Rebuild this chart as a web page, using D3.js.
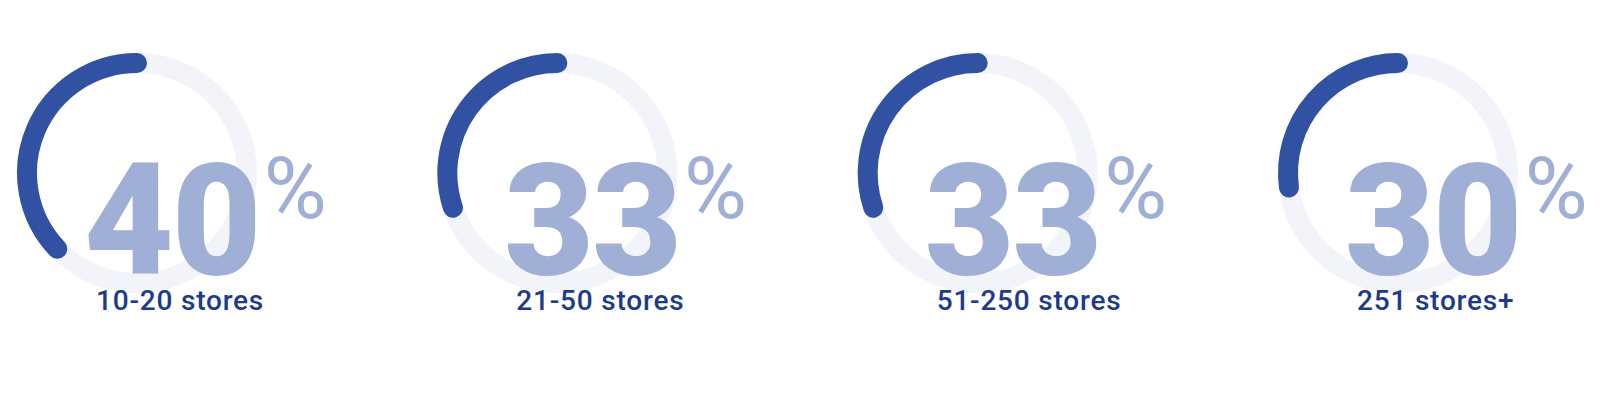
<!DOCTYPE html>
<html>
<head>
<meta charset="utf-8">
<script src="https://cdn.jsdelivr.net/npm/d3@7"></script>
<style>
  body { margin: 0; background: #fff; }
  svg { display: block; font-family: Roboto, "Noto Sans", sans-serif; }
</style>
</head>
<body>
<div id="chart"></div>
<script>
const width = 1600;
const height = 406;

// data
const categories = ["10-20 stores", "21-50 stores", "51-250 stores", "251 stores+"];
const values = [40, 33, 33, 30];

const radius = 110;
const thickness = 20;
const cy = 173;

const svg = d3.select("#chart")
  .append("svg")
  .attr("width", width)
  .attr("height", height);

const x = d3.scalePoint()
  .domain(categories)
  .range([137, 1398]);

// percent -> angle (counter-clockwise from 12 o'clock)
// round caps eat a bit of the arc at each end, so shorten it
const capAngle = (thickness / 2) / radius;
const angle = d3.scaleLinear().domain([0, 100]).range([0, 2 * Math.PI]);

function arcPath(v) {
  const p = d3.path();
  const a0 = -Math.PI / 2;
  const a1 = a0 - (angle(v) - 2 * capAngle);
  p.moveTo(radius * Math.cos(a0), radius * Math.sin(a0));
  p.arc(0, 0, radius, a0, a1, true);
  return p.toString();
}

const gauge = svg.selectAll("g.gauge")
  .data(categories.map((c, i) => ({ name: c, value: values[i] })))
  .enter()
  .append("g")
  .attr("class", "gauge")
  .attr("transform", d => `translate(${x(d.name)},${cy})`);

// background track
gauge.append("circle")
  .attr("r", radius)
  .attr("fill", "none")
  .attr("stroke", "#f2f4fa")
  .attr("stroke-width", thickness);

// value arc
gauge.append("path")
  .attr("d", d => arcPath(d.value))
  .attr("fill", "none")
  .attr("stroke", "#3152a3")
  .attr("stroke-width", thickness)
  .attr("stroke-linecap", "round");

// big number + percent sign
const num = gauge.append("text")
  .attr("x", -53)
  .attr("y", 101)
  .attr("fill", "#9fafd6");

num.append("tspan")
  .attr("font-size", 155)
  .attr("font-weight", 900)
  .attr("letter-spacing", -2)
  .text(d => d.value);

num.append("tspan")
  .attr("font-size", 86)
  .attr("font-weight", 400)
  .attr("dx", 4)
  .attr("dy", -56)
  .text("%");

// category label
gauge.append("text")
  .attr("x", -41)
  .attr("y", 137)
  .attr("font-size", 28)
  .attr("font-weight", 500)
  .attr("letter-spacing", 0.8)
  .attr("fill", "#1d3a8b")
  .text(d => d.name);
</script>
</body>
</html>
